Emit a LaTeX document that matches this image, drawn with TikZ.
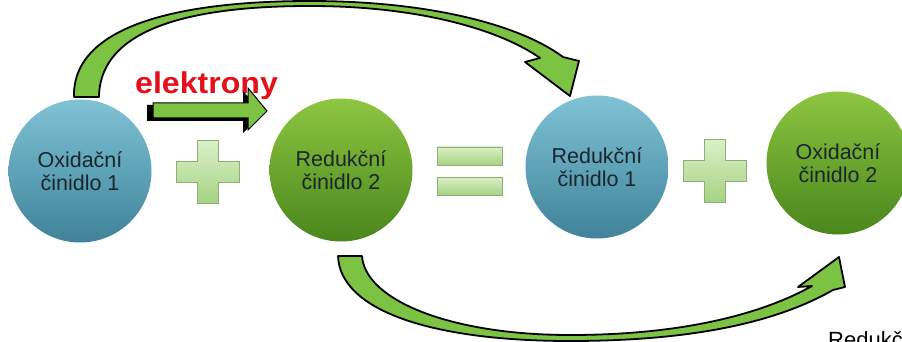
\documentclass[tikz,border=0pt]{standalone}
\usepackage{fontspec}
\setmainfont{Liberation Sans}
\usetikzlibrary{shapes.geometric}
\definecolor{bluetop}{HTML}{80C2D6}
\definecolor{bluemid}{HTML}{5FA3B8}
\definecolor{bluebot}{HTML}{3F8299}
\definecolor{greentop}{HTML}{8EC641}
\definecolor{greenmid}{HTML}{6AA62E}
\definecolor{greenbot}{HTML}{4A861C}
\definecolor{arrowgreen}{HTML}{7CC243}
\definecolor{plustop}{HTML}{DAF0C6}
\definecolor{plusbot}{HTML}{A6D283}
\definecolor{plusedge}{HTML}{8FAE7A}
\definecolor{txtdark}{HTML}{1A262C}
\definecolor{elred}{HTML}{E3101C}
\begin{document}
\begin{tikzpicture}[x=1pt,y=-1pt,
  ball/.style={circle, minimum size=143pt, inner sep=0pt, align=center,
    text=txtdark, font=\fontsize{21.5}{23}\selectfont},
  blueball/.style={ball, top color=bluetop, bottom color=bluebot, middle color=bluemid},
  greenball/.style={ball, top color=greentop, bottom color=greenbot, middle color=greenmid},
  bigarrow/.style={fill=arrowgreen, draw=black, line width=1.8pt, line join=round},
  plusshape/.style={top color=plustop, bottom color=plusbot, draw=plusedge, line width=0.8pt},
  eltext/.style={text=elred, font=\fontsize{30}{32}\selectfont\bfseries, inner sep=0pt, anchor=base west, xscale=1.07},
  cuttext/.style={text=black, font=\fontsize{22}{24}\selectfont, inner sep=0pt, anchor=base west}
]
\useasboundingbox (0,0) rectangle (902,342);
\clip (0,0) rectangle (902,342);
\fill[white] (0,0) rectangle (902,342);

% circles
\node[blueball]  (ox1)  at (80,171)  {Oxidační\\činidlo 1};
\node[greenball] (red2) at (341,170) {Redukční\\činidlo 2};
\node[blueball]  (red1) at (597,167) {Redukční\\činidlo 1};
\node[greenball] (ox2)  at (838,163) {Oxidační\\činidlo 2};

% plus signs
\foreach \cx/\cy in {208/172, 715/171}{
  \path[plusshape] (\cx-10.5,\cy-31.5) -- (\cx+10.5,\cy-31.5) -- (\cx+10.5,\cy-10.5)
    -- (\cx+31.5,\cy-10.5) -- (\cx+31.5,\cy+10.5) -- (\cx+10.5,\cy+10.5)
    -- (\cx+10.5,\cy+31.5) -- (\cx-10.5,\cy+31.5) -- (\cx-10.5,\cy+10.5)
    -- (\cx-31.5,\cy+10.5) -- (\cx-31.5,\cy-10.5) -- (\cx-10.5,\cy-10.5) -- cycle;
}
% equals sign
\path[plusshape] (437,147) rectangle (502,165);
\path[plusshape] (437,177) rectangle (502,195);

% electrons label and arrow
\node[eltext] (el) at (135,94) {elektrony};
\fill[black] (147,105) -- (243,105) -- (243,91) -- (263,113) -- (243,133) -- (243,121) -- (147,121) -- cycle;
\draw[fill=arrowgreen, draw=black, line width=1pt, line join=miter]
  (153,103) -- (248,103) -- (248,88) -- (267,111) -- (248,130) -- (248,118) -- (153,118) -- cycle;

% top curved arrow
\draw[bigarrow] (74,97) .. controls (72,22) and (190,1) .. (310,1)
  .. controls (430,1) and (520,25) .. (563,57) -- (579,61) -- (570,96) -- (525,62) -- (540,58)
  .. controls (500,30) and (420,6) .. (310,6)
  .. controls (200,6) and (100,25) .. (99,97) -- cycle;

% bottom curved arrow
\draw[bigarrow] (362,256) .. controls (365,300) and (450,335) .. (570,335)
  .. controls (680,335) and (760,315) .. (812,286) -- (798,287) -- (839,257) -- (845,287) -- (833,290)
  .. controls (770,326) and (680,341) .. (570,341)
  .. controls (430,341) and (340,310) .. (338,256) -- cycle;

% cut text at bottom right
\node[cuttext] (cut) at (828,347) {Redukč};
\end{tikzpicture}
\end{document}
